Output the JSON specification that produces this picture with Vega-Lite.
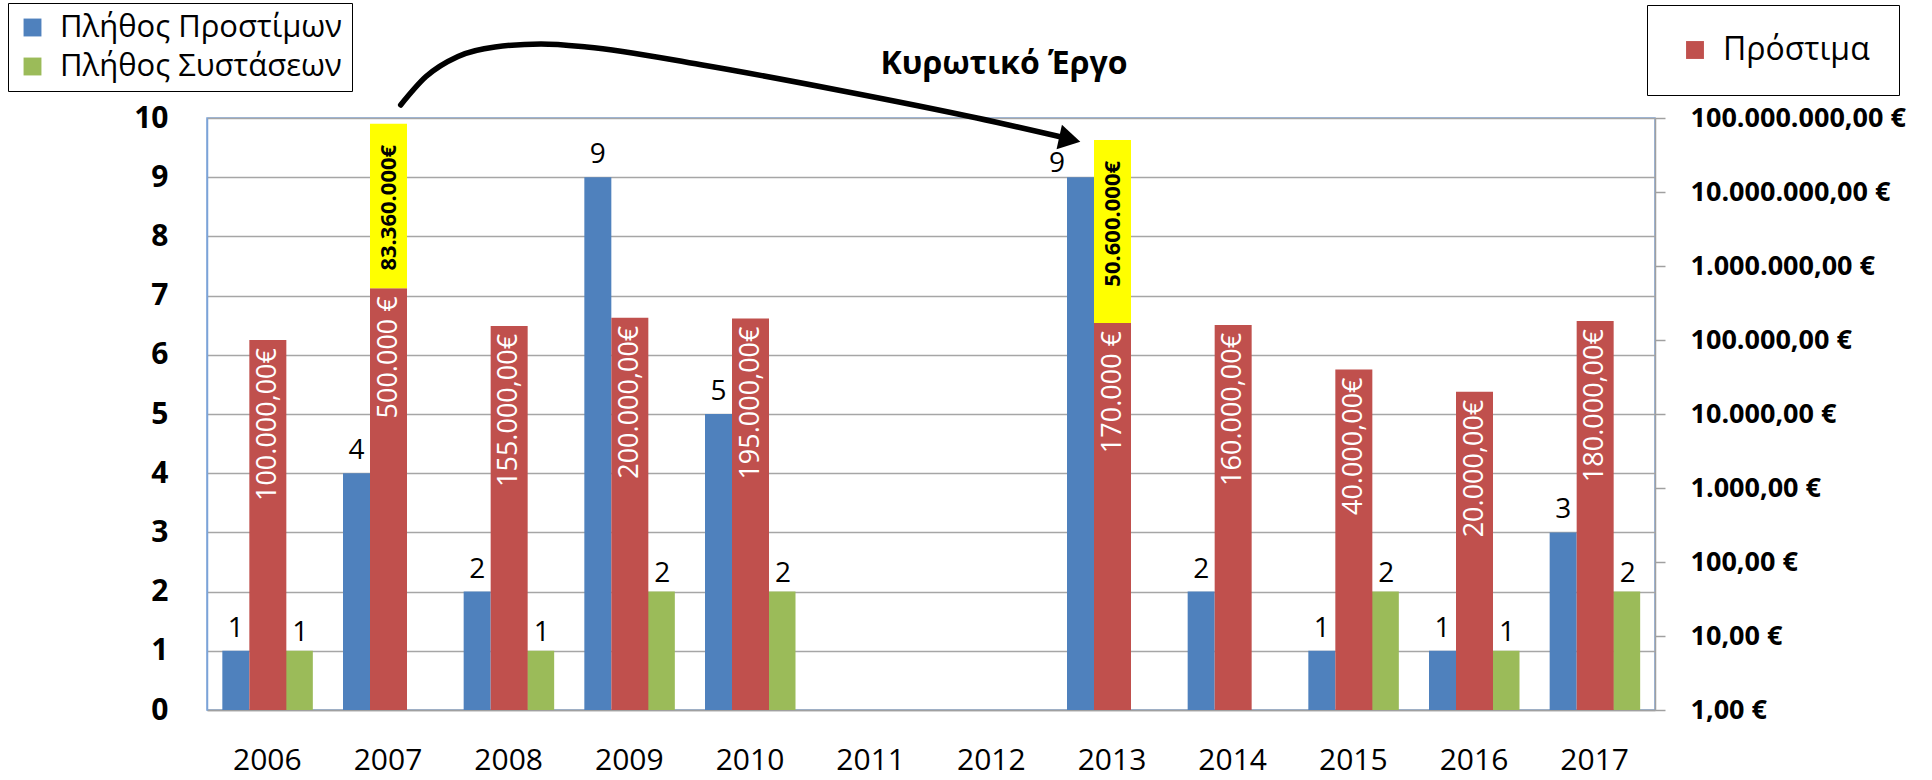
{
  "$schema": "https://vega.github.io/schema/vega-lite/v6.json",
  "width": 1448,
  "height": 592,
  "autosize": {"type": "none"},
  "padding": {"left": 207, "top": 118, "right": 277, "bottom": 70},
  "background": "white",
  "config": {
    "view": {"stroke": "#7BA3D8", "strokeWidth": 1.5},
    "font": "Open Sans"
  },
  "title": {
    "text": "Κυρωτικό Έργο",
    "anchor": "middle",
    "frame": "group",
    "dx": 73,
    "offset": -103,
    "baseline": "alphabetic",
    "fontSize": 32,
    "font": "Open Sans",
    "fontWeight": "bold",
    "color": "black"
  },
  "datasets": {
    "bars": [
      {"year": "2006", "series": "Πλήθος Προστίμων", "value": 1, "label": "1"},
      {"year": "2007", "series": "Πλήθος Προστίμων", "value": 4, "label": "4"},
      {"year": "2008", "series": "Πλήθος Προστίμων", "value": 2, "label": "2"},
      {"year": "2009", "series": "Πλήθος Προστίμων", "value": 9, "label": "9"},
      {"year": "2010", "series": "Πλήθος Προστίμων", "value": 5, "label": "5"},
      {"year": "2013", "series": "Πλήθος Προστίμων", "value": 9, "label": "9"},
      {"year": "2014", "series": "Πλήθος Προστίμων", "value": 2, "label": "2"},
      {"year": "2015", "series": "Πλήθος Προστίμων", "value": 1, "label": "1"},
      {"year": "2016", "series": "Πλήθος Προστίμων", "value": 1, "label": "1"},
      {"year": "2017", "series": "Πλήθος Προστίμων", "value": 3, "label": "3"},
      {"year": "2006", "series": "Πλήθος Συστάσεων", "value": 1, "label": "1"},
      {"year": "2008", "series": "Πλήθος Συστάσεων", "value": 1, "label": "1"},
      {"year": "2009", "series": "Πλήθος Συστάσεων", "value": 2, "label": "2"},
      {"year": "2010", "series": "Πλήθος Συστάσεων", "value": 2, "label": "2"},
      {"year": "2015", "series": "Πλήθος Συστάσεων", "value": 2, "label": "2"},
      {"year": "2016", "series": "Πλήθος Συστάσεων", "value": 1, "label": "1"},
      {"year": "2017", "series": "Πλήθος Συστάσεων", "value": 2, "label": "2"},
      {"year": "2006", "series": "Πρόστιμα", "value": 100000, "label": "100.000,00€"},
      {"year": "2007", "series": "Πρόστιμα", "value": 500000, "label": "500.000 €"},
      {"year": "2008", "series": "Πρόστιμα", "value": 155000, "label": "155.000,00€"},
      {"year": "2009", "series": "Πρόστιμα", "value": 200000, "label": "200.000,00€"},
      {"year": "2010", "series": "Πρόστιμα", "value": 195000, "label": "195.000,00€"},
      {"year": "2013", "series": "Πρόστιμα", "value": 170000, "label": "170.000 €"},
      {"year": "2014", "series": "Πρόστιμα", "value": 160000, "label": "160.000,00€"},
      {"year": "2015", "series": "Πρόστιμα", "value": 40000, "label": "40.000,00€"},
      {"year": "2016", "series": "Πρόστιμα", "value": 20000, "label": "20.000,00€"},
      {"year": "2017", "series": "Πρόστιμα", "value": 180000, "label": "180.000,00€"}
    ],
    "highlight": [
      {"year": "2007", "base": 500000, "top": 83360000, "label": "83.360.000€"},
      {"year": "2013", "base": 170000, "top": 50600000, "label": "50.600.000€"}
    ],
    "arrow": [
      {"px": 2007.105, "py": 10.22},
      {"px": 2007.315, "py": 10.70},
      {"px": 2007.58, "py": 11.04},
      {"px": 2007.887, "py": 11.20},
      {"px": 2008.268, "py": 11.25},
      {"px": 2008.646, "py": 11.20},
      {"px": 2009.594, "py": 10.90},
      {"px": 2010.737, "py": 10.47},
      {"px": 2011.881, "py": 10.00},
      {"px": 2012.64, "py": 9.65}
    ],
    "arrowhead": [
      {"px": 2012.65, "py": 9.64}
    ]
  },
  "layer": [
    {
      "data": {"name": "bars"},
      "encoding": {
        "x": {
          "field": "year", "type": "ordinal", "title": null,
          "scale": {"domain": ["2006","2007","2008","2009","2010","2011","2012","2013","2014","2015","2016","2017"], "paddingInner": 0, "paddingOuter": 0},
          "axis": {"orient": "bottom", "labelAngle": 0, "ticks": false, "tickSize": 0, "domainColor": "#A0A0A0", "domainWidth": 1.5, "labelFont": "Open Sans", "labelFontSize": 30, "labelColor": "black", "labelPadding": 35, "grid": false}
        },
        "y": {
          "field": "value", "type": "quantitative", "title": null,
          "scale": {"domain": [0, 10], "nice": false},
          "axis": {"orient": "left", "values": [0,1,2,3,4,5,6,7,8,9,10], "ticks": false, "tickSize": 0, "domainColor": "#7BA3D8", "domainWidth": 1.5, "grid": true, "gridColor": "#A6A6A6", "gridWidth": 1.5, "labelFont": "Open Sans", "labelFontWeight": "bold", "labelFontSize": 30, "labelColor": "black", "labelPadding": 39}
        }
      },
      "layer": [
        {
          "transform": [{"filter": "datum.series === 'Πλήθος Προστίμων'"}],
          "mark": {"type": "bar", "width": 27, "xOffset": -31.5},
          "encoding": {
            "color": {
              "field": "series", "type": "nominal",
              "scale": {"domain": ["Πλήθος Προστίμων", "Πλήθος Συστάσεων"], "range": ["#4F81BD", "#9BBB59"]},
              "legend": {"title": null, "orient": "none", "legendX": -199, "legendY": -115, "strokeColor": "black", "fillColor": "white", "padding": 9, "symbolType": "square", "symbolSize": 320, "symbolStrokeWidth": 0, "labelFont": "Open Sans", "labelFontSize": 31, "labelColor": "black", "labelOffset": 12, "rowPadding": 7, "labelLimit": 0, "labelExpr": "datum.label + '\u00a0\u00a0'"}
            }
          }
        },
        {
          "transform": [{"filter": "datum.series === 'Πλήθος Συστάσεων'"}],
          "mark": {"type": "bar", "width": 27, "xOffset": 32},
          "encoding": {"color": {"field": "series", "type": "nominal"}}
        },
        {
          "transform": [{"filter": "datum.series === 'Πλήθος Προστίμων' && datum.year !== '2013'"}],
          "mark": {"type": "text", "xOffset": -31.5, "dy": -14, "baseline": "alphabetic", "fontSize": 28, "font": "Open Sans", "color": "black"},
          "encoding": {"text": {"field": "label", "type": "nominal"}}
        },
        {
          "transform": [{"filter": "datum.series === 'Πλήθος Προστίμων' && datum.year === '2013'"}],
          "mark": {"type": "text", "xOffset": -55, "dy": -5, "baseline": "alphabetic", "fontSize": 28, "font": "Open Sans", "color": "black"},
          "encoding": {"text": {"field": "label", "type": "nominal"}}
        },
        {
          "transform": [{"filter": "datum.series === 'Πλήθος Συστάσεων'"}],
          "mark": {"type": "text", "xOffset": 33, "dy": -10, "baseline": "alphabetic", "fontSize": 28, "font": "Open Sans", "color": "black"},
          "encoding": {"text": {"field": "label", "type": "nominal"}}
        }
      ]
    },
    {
      "encoding": {
        "x": {
          "field": "year", "type": "ordinal", "title": null,
          "scale": {"domain": ["2006","2007","2008","2009","2010","2011","2012","2013","2014","2015","2016","2017"], "paddingInner": 0, "paddingOuter": 0},
          "axis": null
        }
      },
      "layer": [
        {
          "data": {"name": "bars"},
          "transform": [{"filter": "datum.series === 'Πρόστιμα'"}],
          "mark": {"type": "bar", "width": 37, "xOffset": 0.5},
          "encoding": {
            "y": {
              "field": "value", "type": "quantitative", "title": null,
              "scale": {"type": "log", "domain": [1, 100000000], "nice": false},
              "axis": {"orient": "right", "values": [1,10,100,1000,10000,100000,1000000,10000000,100000000], "grid": false, "ticks": true, "tickSize": 10, "tickColor": "#A0A0A0", "tickWidth": 1.5, "domainColor": "#A0A0A0", "domainWidth": 1.5, "labelFont": "Open Sans", "labelFontWeight": "bold", "labelFontSize": 27, "labelColor": "black", "labelPadding": 25, "labelLimit": 0, "labelExpr": "replace(replace(replace(format(datum.value, ',.2f'), regexp(',', 'g'), '_'), regexp('[.]', 'g'), ','), regexp('_', 'g'), '.') + ' €'"}
            },
            "y2": {"datum": 1},
            "color": {
              "field": "series", "type": "nominal",
              "scale": {"domain": ["Πρόστιμα"], "range": ["#C0504D"]},
              "legend": {"title": null, "orient": "none", "legendX": 1440, "legendY": -113, "strokeColor": "black", "fillColor": "white", "padding": 29, "symbolOffset": 3, "symbolType": "square", "symbolSize": 320, "symbolStrokeWidth": 0, "labelFont": "Open Sans", "labelFontSize": 32, "labelColor": "black", "labelOffset": 12, "labelLimit": 0, "labelExpr": "datum.label + '\u00a0\u00a0\u00a0\u00a0\u00a0'"}
            }
          }
        },
        {
          "data": {"name": "bars"},
          "transform": [{"filter": "datum.series === 'Πρόστιμα'"}],
          "mark": {"type": "text", "xOffset": 0.5, "angle": 270, "align": "right", "baseline": "middle", "dx": -8, "fontSize": 27, "font": "Open Sans", "color": "white"},
          "encoding": {
            "y": {"field": "value", "type": "quantitative", "title": null},
            "text": {"field": "label", "type": "nominal"}
          }
        },
        {
          "data": {"name": "highlight"},
          "mark": {"type": "bar", "width": 37, "xOffset": 0.5, "color": "#FFFF00"},
          "encoding": {
            "y": {"field": "base", "type": "quantitative", "title": null},
            "y2": {"field": "top"}
          }
        },
        {
          "data": {"name": "highlight"},
          "mark": {"type": "text", "xOffset": 0.5, "angle": 270, "align": "right", "baseline": "middle", "dx": -21, "fontSize": 22, "font": "Open Sans", "fontWeight": "bold", "color": "black"},
          "encoding": {
            "y": {"field": "top", "type": "quantitative", "title": null},
            "text": {"field": "label", "type": "nominal"}
          }
        }
      ]
    },
    {
      "encoding": {
        "x": {"field": "px", "type": "quantitative", "title": null, "scale": {"domain": [2005.5, 2017.5], "nice": false, "zero": false}, "axis": null},
        "y": {"field": "py", "type": "quantitative", "title": null, "scale": {"domain": [0, 10], "nice": false, "zero": false}, "axis": null}
      },
      "layer": [
        {
          "data": {"name": "arrow"},
          "mark": {"type": "line", "color": "black", "strokeWidth": 5.5, "interpolate": "monotone", "strokeCap": "round"}
        },
        {
          "data": {"name": "arrowhead"},
          "mark": {"type": "point", "shape": "triangle-right", "angle": 12.5, "size": 620, "filled": true, "color": "black", "opacity": 1}
        }
      ]
    }
  ],
  "resolve": {
    "scale": {"x": "independent", "y": "independent", "color": "independent"},
    "axis": {"x": "independent", "y": "independent"},
    "legend": {"color": "independent"}
  }
}
